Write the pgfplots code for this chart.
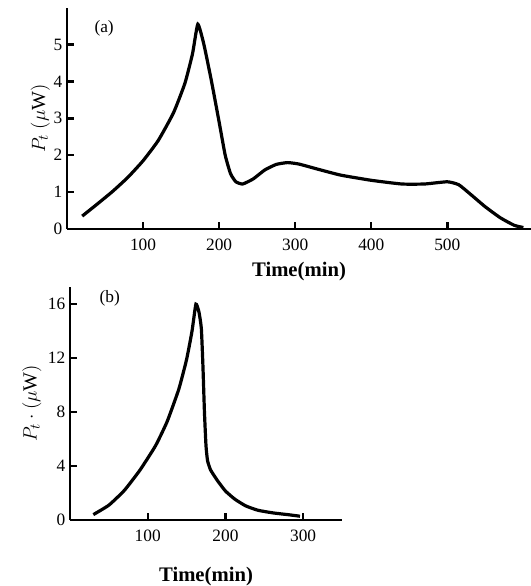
\documentclass[border=0pt]{standalone}
\usepackage{fontspec}
\setmainfont{Liberation Serif}
\usepackage{pgfplots}
\pgfplotsset{compat=1.18}

% shared look of both panels
\pgfplotsset{
  pan/.style={
    scale only axis,
    axis lines=left,
    axis line style={-, line width=1.6pt},
    tick align=inside,
    major tick length=5pt,
    tick style={line width=1.8pt, black},
    /pgf/number format/assume math mode=true,
    ticklabel style={font=\fontsize{13}{13}\selectfont},
    xticklabel style={yshift=-4pt},
    xlabel style={font=\fontsize{15.5}{15.5}\selectfont\bfseries},
    ylabel style={font=\fontsize{15}{15}\selectfont},
    clip=false,
  },
  curve/.style={black, line width=2.4pt, smooth, tension=0.3},
}

\pgfplotstableread{
t    p
20   0.35
40   0.68
60   1.02
80   1.40
100  1.85
120  2.40
140  3.15
155  3.95
165  4.75
172  5.55
180  5.00
190  4.00
200  2.90
208  2.00
215  1.50
222  1.28
231  1.22
245  1.36
260  1.60
275  1.75
290  1.80
305  1.76
330  1.62
360  1.46
400  1.32
440  1.22
470  1.22
500  1.28
515  1.20
530  0.95
550  0.60
570  0.30
588  0.10
600  0.04
}\runa

\pgfplotstableread{
t    p
30   0.40
50   1.10
70   2.20
90   3.70
110  5.50
125  7.30
140  9.70
150  11.90
157  14.00
162  16.00
166  15.40
169  14.20
171  11.50
173  8.00
175  5.50
177  4.40
181  3.70
190  2.90
200  2.15
212  1.55
226  1.05
242  0.72
262  0.52
280  0.40
296  0.28
}\runb

\begin{document}
\begin{tikzpicture}
\path[use as bounding box] (0,0) rectangle (398.25pt,439.5pt);

% panel (a)
\begin{axis}[pan,
  at={(50.25pt,267.75pt)}, anchor=south west,
  width=348pt, height=166pt,
  xmin=0, xmax=610, ymin=0, ymax=6.0,
  xtick={100,200,...,500}, ytick={0,1,...,5},
  xlabel={Time(min)}, ylabel={$P_t\ (\mu \mathrm{W})$},
  xlabel style={yshift=-2pt}, ylabel style={yshift=-4pt},
]
\addplot[curve] table[x=t, y=p] {\runa};
\node[font=\fontsize{13}{13}\selectfont, anchor=west] at (axis cs:30,5.45) {(a)};
\end{axis}

% panel (b)
\begin{axis}[pan,
  at={(52.5pt,49.5pt)}, anchor=south west,
  width=204pt, height=175pt,
  xmin=0, xmax=350, ymin=0, ymax=17.3,
  xtick={100,200,300}, ytick={0,4,...,16},
  xlabel={Time(min)}, ylabel={$P_t\cdot(\mu \mathrm{W})$},
  xlabel style={yshift=-12pt}, ylabel style={yshift=-2pt},
]
\addplot[curve] table[x=t, y=p] {\runb};
\node[font=\fontsize{13}{13}\selectfont, anchor=west] at (axis cs:32,16.4) {(b)};
\end{axis}
\end{tikzpicture}
\end{document}
